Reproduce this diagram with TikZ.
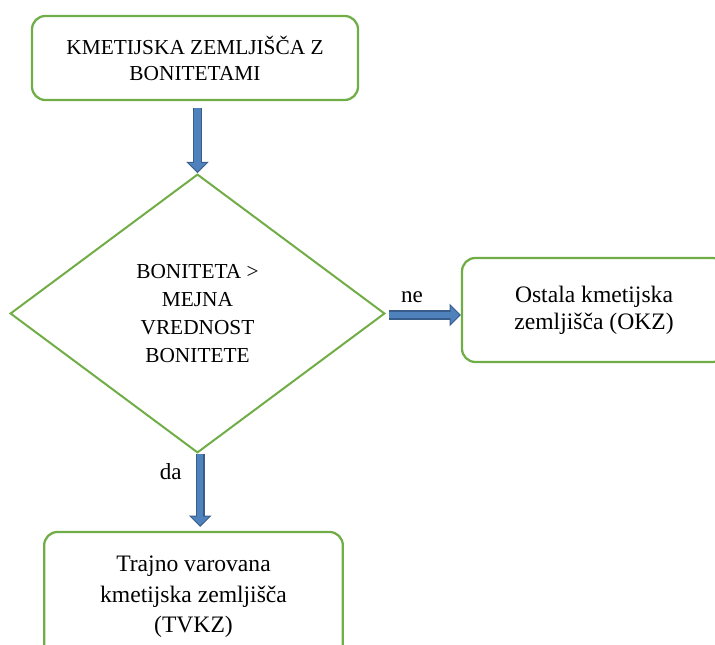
\documentclass[tikz,border=0pt]{standalone}
\usepackage{fontspec}
\setmainfont{Liberation Serif}
\usetikzlibrary{shapes.geometric,arrows.meta}

\definecolor{zelena}{RGB}{112,173,71}
\definecolor{modra}{RGB}{79,129,189}
\definecolor{temnomodra}{RGB}{56,93,138}

\tikzset{
  okvir/.style={draw=zelena, line width=1.7pt, rounded corners=10pt, align=center, inner sep=0pt},
  romb/.style={draw=zelena, line width=1.5pt, diamond, aspect=1.34, inner sep=0pt, align=center},
  puscica/.style={preaction={draw=temnomodra, line width=7pt, shorten >=0pt,
      -{Triangle[width=16.5pt,length=8.5pt]}},
    draw=modra, line width=4.8pt, shorten >=1.2pt, -{Triangle[width=13pt,length=6.5pt]}},
  oznaka/.style={inner sep=0pt, font=\fontsize{17.3}{20}\selectfont}
}

\begin{document}
\begin{tikzpicture}[x=0.75pt,y=-0.75pt]
\useasboundingbox (0,0) rectangle (715,645);
\clip (0,0) rectangle (715,645);
\node[okvir, minimum width=244.5pt, minimum height=63pt, font=\fontsize{16}{19.5}\selectfont] (zem) at (195,58) {KMETIJSKA ZEMLJIŠČA Z\\BONITETAMI} ;
\node[romb, minimum width=281pt, minimum height=209pt, font=\fontsize{16}{21}\selectfont] (bon) at (197.5,313.5) {BONITETA >\\MEJNA\\VREDNOST\\BONITETE} ;
\node[okvir, minimum width=198pt, minimum height=78pt, font=\fontsize{17.7}{20.3}\selectfont] (okz) at (594,310) {Ostala kmetijska\\zemljišča (OKZ)} ;
\node[okvir, minimum width=224pt, minimum height=97.5pt, font=\fontsize{17.7}{23}\selectfont] (tvkz) at (193.5,597) {Trajno varovana\\kmetijska zemljišča\\(TVKZ)} ;
\draw[puscica, shorten <=5.3pt] (bon.north |- zem.south) -- (bon.north) ;
\draw[puscica, shorten <=2pt] ([yshift=-1.1pt]bon.east) -- ([yshift=-1.1pt]bon.east -| okz.west)
  node[oznaka, pos=0.35, above=6.5pt] (ne) {ne} ;
\draw[puscica] ([xshift=2pt]bon.south) -- ([xshift=2pt,yshift=3pt]bon.south |- tvkz.north)
  node[oznaka, pos=0.24, left=11.5pt] (da) {da} ;
\end{tikzpicture}
\end{document}
